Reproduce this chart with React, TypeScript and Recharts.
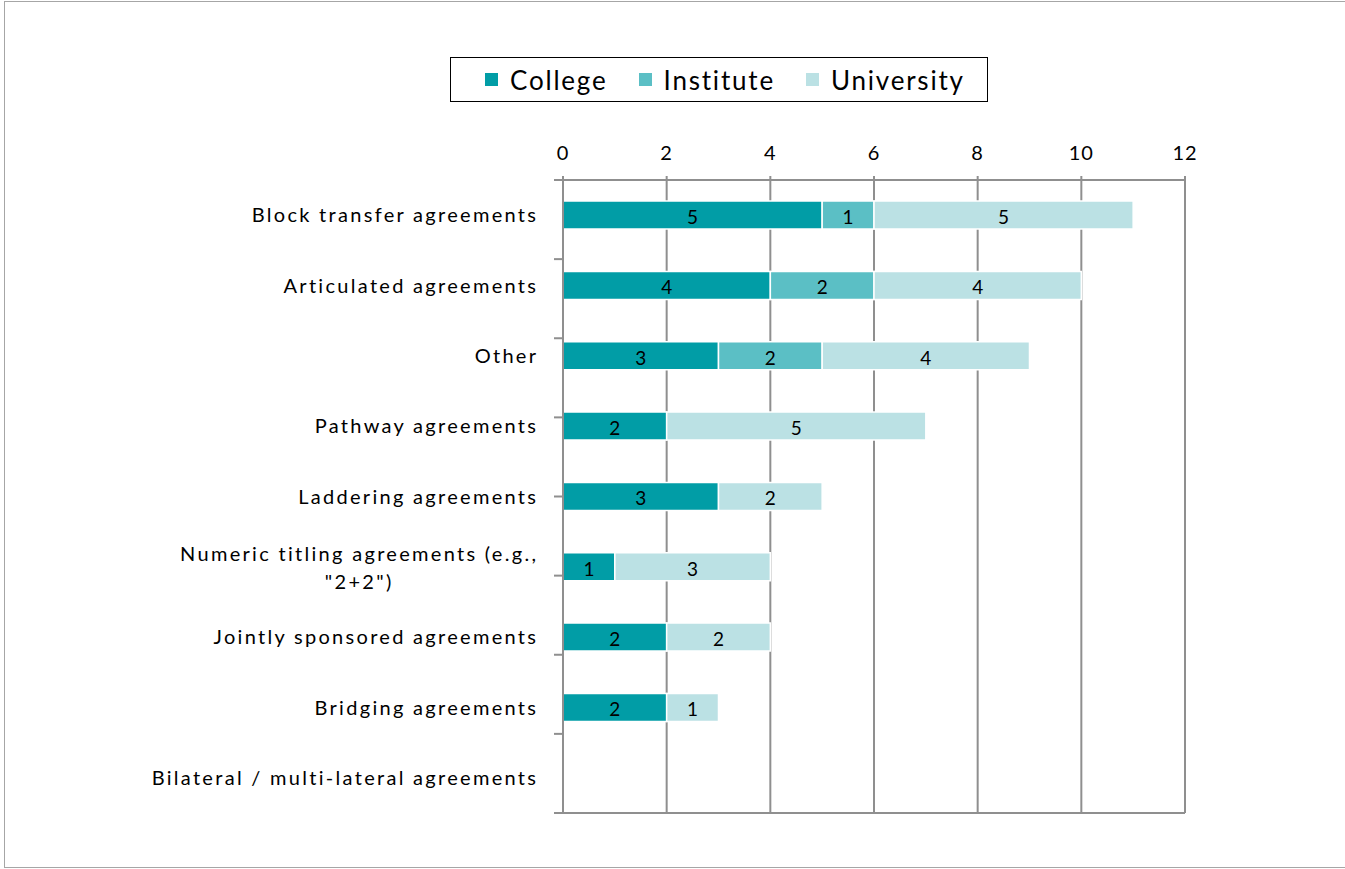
import React from "react";
import { BarChart, Bar, XAxis, YAxis, CartesianGrid, Legend, LabelList } from "recharts";

const categories = [
  "Block transfer agreements",
  "Articulated agreements",
  "Other",
  "Pathway agreements",
  "Laddering agreements",
  'Numeric titling agreements (e.g., "2+2")',
  "Jointly sponsored agreements",
  "Bridging agreements",
  "Bilateral / multi-lateral agreements",
];
const college = [5, 4, 3, 2, 3, 1, 2, 2, 0];
const institute = [1, 2, 2, 0, 0, 0, 0, 0, 0];
const university = [5, 4, 4, 5, 2, 3, 2, 1, 0];
const xTicks = [0, 2, 4, 6, 8, 10, 12];
const boundaryTicks = [0, 1, 2, 3, 4, 5, 6, 7, 8, 9];
const seriesKeys = ["college", "institute", "university"];
const seriesNames = ["College", "Institute", "University"];
const seriesColors = ["#019DA6", "#5BBFC5", "#BBE1E4"];
const wrappedLabels: Record<string, string[]> = {
  'Numeric titling agreements (e.g., "2+2")': ['Numeric titling agreements (e.g.,', '"2+2")'],
};

const data = categories.map((name, i) => ({
  name,
  college: college[i],
  institute: institute[i],
  university: university[i],
}));

const FONT = "Lato";
const CAT_SIZE = 20;
const CAT_SPACING = 2.3;
const LINE_H = 28;
const GRID = "#8f8f8f";

function measure(text: string): number {
  const c = document.createElement("canvas");
  const ctx = c.getContext("2d") as any;
  ctx.font = `${CAT_SIZE}px ${FONT}`;
  try { ctx.letterSpacing = `${CAT_SPACING}px`; } catch (e) {}
  return ctx.measureText(text).width;
}

const CategoryTick = (props: any) => {
  const { x, y, payload } = props;
  const label = String(payload.value);
  const lines = wrappedLabels[label] || [label];
  const common = { fontFamily: FONT, fontSize: CAT_SIZE, letterSpacing: CAT_SPACING, fill: "#000" };
  if (lines.length === 1) {
    return (
      <text x={x + CAT_SPACING} y={y} dy="0.35em" textAnchor="end" {...common}>
        {label}
      </text>
    );
  }
  const w = measure(lines[0]);
  const startY = y + 1 - ((lines.length - 1) * LINE_H) / 2;
  return (
    <g>
      {lines.map((ln, i) => (
        <text key={i} x={x + CAT_SPACING - w / 2} y={startY + i * LINE_H} dy="0.35em" textAnchor="middle" {...common}>
          {ln}
        </text>
      ))}
    </g>
  );
};

const LegendBox = () => (
  <div
    style={{
      boxSizing: "border-box",
      width: 538,
      height: 45,
      border: "1.5px solid #000",
      display: "flex",
      alignItems: "center",
      paddingLeft: 34,
      fontFamily: FONT,
      fontSize: 26,
      letterSpacing: 1.8,
      color: "#000",
      background: "#fff",
    }}
  >
    {seriesNames.map((n, i) => (
      <div key={n} style={{ display: "flex", alignItems: "center", marginRight: 31 }}>
        <div style={{ width: 13, height: 13, background: seriesColors[i], marginRight: 12 }} />
        <span>{n}</span>
      </div>
    ))}
  </div>
);

const hideZero = (v: any) => (v ? v : "");

export default function App() {
  return (
    <div style={{ position: "absolute", left: 0, top: 0, width: 1345, height: 869, background: "#fff" }}>
      <div
        style={{
          position: "absolute",
          left: 4,
          top: 1,
          width: 1350,
          height: 867,
          boxSizing: "border-box",
          border: "1px solid #a6a6a6",
        }}
      />
      <div style={{ position: "absolute", left: 0, top: 0 }}>
        <BarChart
          width={1345}
          height={869}
          data={data}
          layout="vertical"
          margin={{ top: 130, right: 160, bottom: 55, left: 0 }}
          barCategoryGap="30%"
        >
          <CartesianGrid xAxisId={0} yAxisId="cat" horizontal={false} vertical={true} stroke={GRID} strokeWidth={2} />
          <XAxis
            xAxisId={0}
            type="number"
            orientation="top"
            domain={[0, 12]}
            ticks={xTicks}
            interval={0}
            height={50}
            tickSize={4}
            tickMargin={16}
            axisLine={{ stroke: GRID, strokeWidth: 2 }}
            tickLine={{ stroke: GRID, strokeWidth: 2 }}
            tick={{ fill: "#000", fontFamily: FONT, fontSize: 20, letterSpacing: 1 }}
          />
          <XAxis
            xAxisId="bottom"
            type="number"
            orientation="bottom"
            domain={[0, 12]}
            allowDataOverflow
            height={1}
            tick={false}
            tickLine={false}
            axisLine={{ stroke: GRID, strokeWidth: 2 }}
          />
          <YAxis
            yAxisId="a"
            type="number"
            domain={[0, 9]}
            allowDataOverflow
            ticks={boundaryTicks}
            interval={0}
            width={9}
            tickSize={9}
            tick={() => <g />}
            axisLine={{ stroke: GRID, strokeWidth: 2 }}
            tickLine={{ stroke: GRID, strokeWidth: 2 }}
          />
          <YAxis
            yAxisId="cat"
            type="category"
            dataKey="name"
            width={554}
            interval={0}
            tickSize={0}
            tickMargin={18}
            axisLine={false}
            tickLine={false}
            tick={<CategoryTick />}
          />
          <Legend
            layout="horizontal"
            verticalAlign="middle"
            align="center"
            wrapperStyle={{ position: "absolute", left: 450, top: 57, width: 538, height: 45 }}
            content={() => <LegendBox />}
          />
          {seriesKeys.map((k, i) => (
            <Bar
              key={k}
              dataKey={k}
              name={seriesNames[i]}
              stackId="s"
              xAxisId={0}
              yAxisId="cat"
              fill={seriesColors[i]}
              stroke="#fff"
              strokeWidth={1.5}
              isAnimationActive={false}
            >
              <LabelList
                dataKey={k}
                position="center"
                formatter={hideZero}
                fill="#000"
                dy={2}
                style={{ fontFamily: FONT, fontSize: 19, fill: "#000" }}
              />
            </Bar>
          ))}
        </BarChart>
      </div>
    </div>
  );
}
